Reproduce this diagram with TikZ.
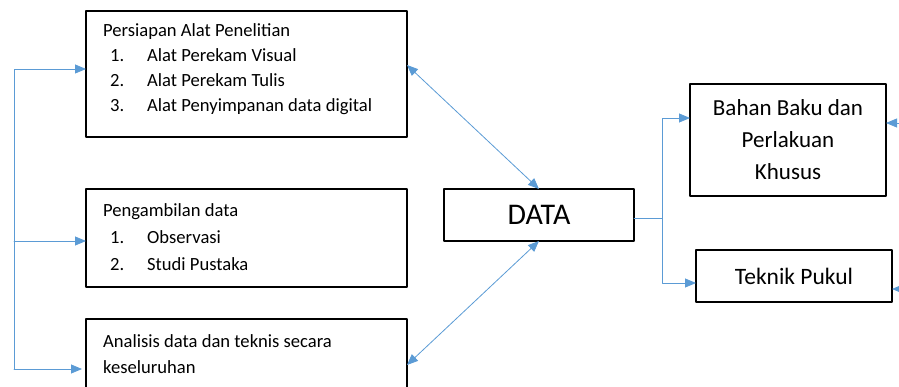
\documentclass[tikz,border=0pt]{standalone}
\usepackage{fontspec}
\setmainfont{Carlito}
\usetikzlibrary{arrows.meta,calc}
\definecolor{wwccff}{rgb}{0.357,0.608,0.835}
\tikzset{kotak/.style={draw=black,line width=1.6pt,inner sep=0pt,outer sep=0pt,align=center},
         panah/.style={line width=0.8pt,color=wwccff,-{Triangle[length=11pt,width=9pt]}},
         panahdua/.style={panah,{Triangle[length=11pt,width=9pt]}-{Triangle[length=11pt,width=9pt]}},
         isi/.style={anchor=base west,inner sep=0pt,font=\fontsize{18.6}{20}\selectfont}}

\begin{document}
\begin{tikzpicture}[line cap=round,line join=round,x=1pt,y=-1pt]
\clip (0,0) rectangle (899,387);
% kotak kiri
\node[kotak,minimum width=321pt,minimum height=126pt] (persiapan) at (246.5,74) {};
\node[kotak,minimum width=321pt,minimum height=98pt] (pengambilan) at (246.5,238) {};
\node[kotak,minimum width=321pt,minimum height=90pt] (analisis) at (246.5,364) {};
\node[isi] (judul1) at (103,37) {Persiapan Alat Penelitian};
\node[isi] (alat1) at (110,62) {\makebox[37pt][l]{1.}Alat Perekam Visual};
\node[isi] (alat2) at (110,87) {\makebox[37pt][l]{2.}Alat Perekam Tulis};
\node[isi] (alat3) at (110,112) {\makebox[37pt][l]{3.}Alat Penyimpanan data digital};
\node[isi] (judul2) at (103,217) {Pengambilan data};
\node[isi] (cara1) at (110,244) {\makebox[37pt][l]{1.}Observasi};
\node[isi] (cara2) at (110,270) {\makebox[37pt][l]{2.}Studi Pustaka};
\node[isi] (judul3) at (103,347) {Analisis data dan teknis secara};
\node[isi] (judul3b) at (103,373) {keseluruhan};
% kotak tengah dan kanan
\node[kotak,minimum width=190pt,minimum height=52pt,font=\fontsize{30}{32}\selectfont] (data) at (539,215) {DATA};
\node[kotak,minimum width=196pt,minimum height=112pt,font=\fontsize{23}{32}\selectfont] (bahan) at (788,140) {Bahan Baku dan\\Perlakuan\\Khusus};
\node[kotak,minimum width=196pt,minimum height=52pt,font=\fontsize{23.5}{32}\selectfont] (teknik) at (794,276) {Teknik Pukul};

% garis kiri
\coordinate (atas) at (14,69);
\coordinate (tengah) at (14,241);
\coordinate (bawah) at (14,369);
\draw [panah] (bawah) -- (atas) -- (persiapan.west |- atas);
\draw [panah] (tengah) -- (pengambilan.west |- tengah);
\draw [panah] (bawah) -- ([xshift=-4pt]analisis.west |- bawah);
\draw [panahdua] (persiapan.east |- 0,65) -- (data.north);
\draw [panahdua] (analisis.east |- 0,365) -- (data.south);

% cabang kanan
\coordinate (cabang) at (662,218);
\draw [line width=0.8pt,color=wwccff] (data.east |- cabang) -- (cabang);
\draw [panah] (cabang) |- (bahan.west |- 0,118);
\draw [panah] (cabang) |- (teknik.west |- 0,283);
\coordinate (luar1) at (910,123);
\coordinate (luar2) at (910,289);
\draw [panah] (luar1) -- (bahan.east |- luar1);
\draw [panah] (luar2) -- (teknik.east |- luar2);
\end{tikzpicture}
\end{document}
